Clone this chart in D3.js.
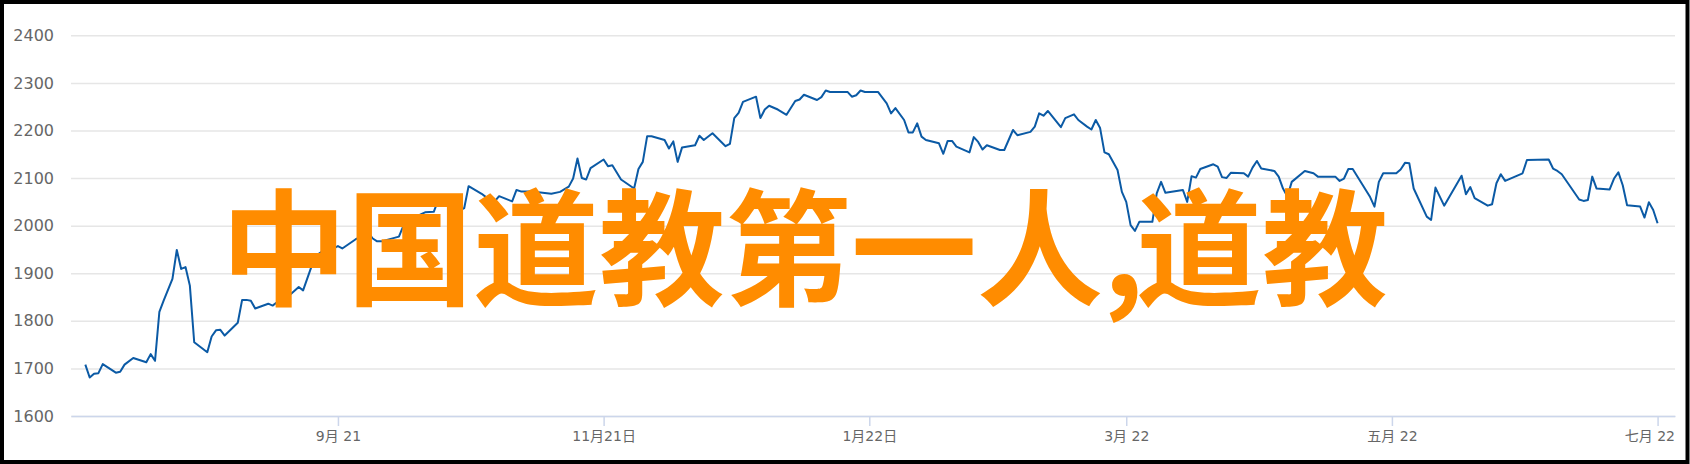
<!DOCTYPE html>
<html>
<head>
<meta charset="utf-8">
<script src="https://cdn.jsdelivr.net/npm/d3@7"></script>
<style>
html, body { margin: 0; padding: 0; background: #fff; }
svg { display: block; }
</style>
</head>
<body>
<svg id="chart" width="1690" height="464"></svg>
<script>
// ---------------- DATA ----------------
const startDay = "2021-07-01";           // day 0 of dayIndex
const dayIndex = [
  4,5,6,7,8,11,12,13,15,18,19,20,21,22,24,25,26,27,28,29,
  32,33,34,35,36,39,40,41,42,43,46,47,48,50,51,53,54,56,57,59,
  61,62,63,66,69,70,71,72,76,77,79,82,84,85,87,89,90,91,92,95,
  96,98,99,102,103,104,106,108,111,113,115,116,117,118,119,120,123,124,125,127,
  130,131,132,133,134,137,138,139,140,141,144,145,146,148,151,152,153,154,155,158,
  159,160,161,163,165,167,168,169,172,173,174,175,179,180,181,182,183,186,188,189,
  190,192,193,194,195,196,197,200,201,202,203,204,207,208,209,210,211,214,215,217,
  218,221,222,223,224,225,228,229,231,232,234,235,236,237,238,239,241,242,243,244,
  245,246,249,250,251,252,256,257,258,259,260,263,264,265,266,267,270,271,272,273,
  274,277,278,279,280,281,284,286,287,291,292,293,294,295,298,299,300,301,302,305,
  306,307,308,309,312,313,314,316,320,321,322,323,326,327,328,329,330,334,335,340,
  341,342,343,347,348,349,350,351,354,355,356,357,358,361,362,363,364,365
];
const values = [
  1708,1681,1689,1690,1709,1691,1693,1708,1722,1713,1730,1716,1819,1843,1888,1949,1909,1913,1874,1755,
  1734,1767,1780,1781,1769,1796,1844,1844,1842,1826,1836,1832,1839,1848,1855,1871,1864,1916,1937,1950,
  1952,1957,1952,1971,1985,1973,1967,1967,1977,1999,2015,2028,2029,2053,2045,2040,2032,2037,2083,2067,
  2060,2051,2062,2051,2075,2072,2072,2070,2067,2071,2082,2099,2141,2100,2097,2121,2139,2125,2127,2097,
  2078,2119,2134,2188,2188,2180,2162,2177,2134,2164,2169,2189,2180,2194,2167,2172,2226,2237,2260,2271,
  2226,2244,2252,2244,2233,2262,2265,2275,2264,2270,2284,2281,2281,2271,2274,2284,2281,2281,2257,2236,
  2247,2222,2196,2196,2215,2187,2180,2173,2151,2178,2178,2166,2154,2186,2176,2160,2169,2159,2159,2201,
  2190,2197,2208,2236,2231,2241,2207,2226,2234,2222,2208,2202,2222,2205,2154,2150,2117,2071,2050,2001,
  1989,2008,2008,2068,2092,2069,2075,2050,2104,2101,2119,2129,2124,2102,2100,2111,2110,2103,2122,2136,
  2120,2115,2103,2078,2061,2092,2115,2110,2103,2103,2094,2099,2119,2119,2075,2060,2040,2092,2110,2110,
  2118,2132,2131,2078,2019,2012,2080,2042,2105,2066,2081,2058,2042,2045,2089,2108,2094,2110,2138,2139,
  2120,2115,2108,2055,2052,2054,2103,2078,2076,2099,2112,2085,2043,2040,2017,2049,2033,2005
];
const yTicks = [1600, 1700, 1800, 1900, 2000, 2100, 2200, 2300, 2400];
const xTickDates = ["2021-09-01", "2021-11-01", "2022-01-01", "2022-03-01", "2022-05-01", "2022-07-01"];
const xTickLabels = ["9月 21", "11月21日", "1月22日", "3月 22", "五月 22", "七月 22"];
const overlayParts = ["中国道教第一人", ",", "道教"];

// ---------------- LAYOUT ----------------
const W = 1690, H = 464;
const plotLeft = 71, plotRight = 1675, plotTop = 35.3, plotBottom = 416;
const labelFont = "'DejaVu Sans', 'Noto Sans CJK SC', sans-serif";

const parse = d3.timeParse("%Y-%m-%d");
const t0 = parse(startDay);
const data = dayIndex.map((n, i) => ({ date: d3.timeDay.offset(t0, n), value: values[i] }));

const x = d3.scaleTime()
  .domain([d3.timeHour.offset(t0, 17), parse("2022-07-05")])
  .range([plotLeft, plotRight]);
const y = d3.scaleLinear().domain([1600, 2400]).range([plotBottom, plotTop]);

const svg = d3.select("#chart");
svg.append("rect").attr("width", W).attr("height", H).attr("fill", "#fff");

// Y grid + labels
const gy = svg.append("g")
  .attr("transform", `translate(${plotLeft},0)`)
  .call(d3.axisLeft(y).tickValues(yTicks).tickSize(-(plotRight - plotLeft)).tickPadding(17).tickFormat(d3.format("d")));
gy.select(".domain").remove();
gy.selectAll(".tick line").attr("stroke", "#e6e6e6").attr("stroke-width", 1.5);
gy.selectAll(".tick text")
  .attr("fill", "#666")
  .style("font-family", labelFont)
  .style("font-size", "16px");

// X axis
const tickDates = xTickDates.map(parse);
const gx = svg.append("g")
  .attr("transform", `translate(0,${plotBottom})`)
  .call(d3.axisBottom(x).tickValues(tickDates).tickSize(10).tickSizeOuter(0).tickPadding(5)
    .tickFormat((d, i) => xTickLabels[i]));
gx.select(".domain").attr("stroke", "#ccd6eb").attr("stroke-width", 1.5);
gx.selectAll(".tick line").attr("stroke", "#ccd6eb").attr("stroke-width", 1.5);
gx.selectAll(".tick text")
  .attr("fill", "#666")
  .style("font-family", labelFont)
  .style("font-size", "14px");
// keep labels inside the plot area
gx.selectAll(".tick").each(function () {
  const g = d3.select(this);
  const tx = +g.attr("transform").match(/translate\(([-\d.]+)/)[1];
  const txt = g.select("text");
  const w = txt.node().getComputedTextLength();
  if (tx + w / 2 > plotRight) txt.attr("x", plotRight - tx - w / 2);
});

// Line
svg.append("path")
  .datum(data)
  .attr("fill", "none")
  .attr("stroke", "#0b5aa5")
  .attr("stroke-width", 2)
  .attr("stroke-linejoin", "round")
  .attr("d", d3.line().x(d => x(d.date)).y(d => y(d.value)));

// Overlay title (tight comma spacing as in the original)
const title = svg.append("text")
  .attr("y", 296)
  .attr("fill", "#ff8c00")
  .style("font-family", "'Noto Sans CJK SC', sans-serif")
  .style("font-weight", "bold")
  .style("font-size", "126px");
const p1 = title.append("tspan").attr("x", 221).text(overlayParts[0]);
const p1End = 221 + p1.node().getComputedTextLength();
const p2 = title.append("tspan").attr("x", p1End).style("letter-spacing", "-8px").text(overlayParts[1]);
const p2End = p1End + p2.node().getComputedTextLength();
title.append("tspan").attr("x", p2End).text(overlayParts[2]);

// Frame
svg.append("rect")
  .attr("x", 2).attr("y", 2)
  .attr("width", W - 4.5).attr("height", H - 4)
  .attr("fill", "none")
  .attr("stroke", "#000")
  .attr("stroke-width", 4);
</script>
</body>
</html>
